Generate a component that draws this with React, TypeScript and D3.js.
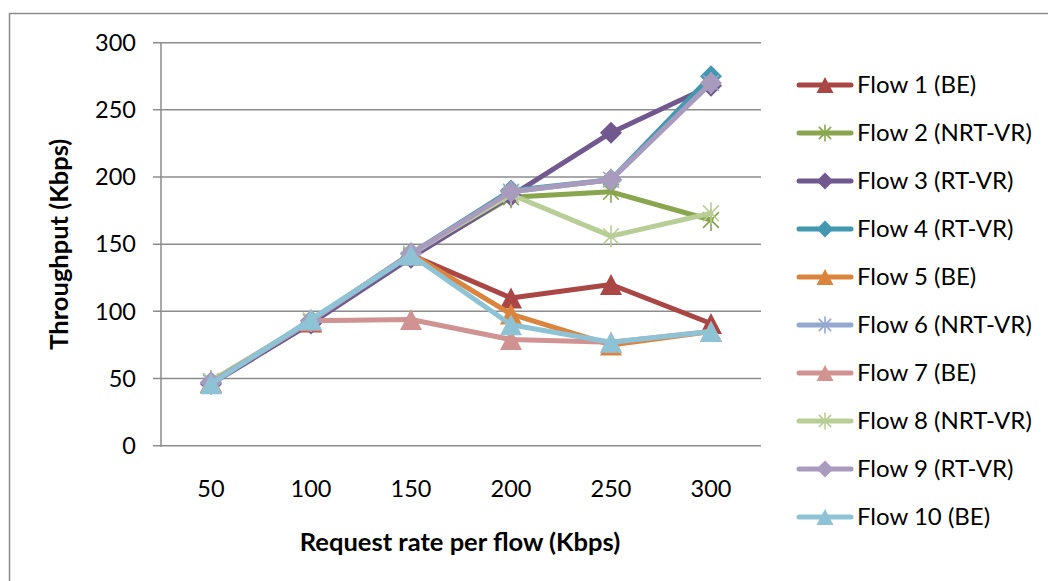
import React from "react";
import * as d3 from "d3";

const rates = ["50", "100", "150", "200", "250", "300"];
const yTicks = [0, 50, 100, 150, 200, 250, 300];

const flow1 = [47, 92, 142, 110, 120, 91];
const flow2 = [48, 92, 141, 185, 189, 168];
const flow3 = [46, 91, 140, 186, 233, 268];
const flow4 = [47, 93, 143, 190, 198, 275];
const flow5 = [47, 93, 143, 98, 75, 85];
const flow6 = [47, 93, 142, 189, 198, 270];
const flow7 = [47, 93, 94, 79, 77, 85];
const flow8 = [48, 93, 143, 187, 156, 173];
const flow9 = [47, 93, 143, 189, 198, 270];
const flow10 = [46, 94, 142, 90, 77, 85];

const names = [
  "Flow 1 (BE)",
  "Flow 2 (NRT-VR)",
  "Flow 3 (RT-VR)",
  "Flow 4 (RT-VR)",
  "Flow 5 (BE)",
  "Flow 6 (NRT-VR)",
  "Flow 7 (BE)",
  "Flow 8 (NRT-VR)",
  "Flow 9 (RT-VR)",
  "Flow 10 (BE)",
];
const colors = [
  "#AA4643",
  "#89A54E",
  "#71588F",
  "#4198AF",
  "#DB843D",
  "#93A9CF",
  "#D19392",
  "#B9CD96",
  "#A99BBD",
  "#8DC3D5",
];
const markers = ["tri", "star", "dia", "dia", "tri", "star", "tri", "star", "dia", "tri"];

const series = [flow1, flow2, flow3, flow4, flow5, flow6, flow7, flow8, flow9, flow10];

const FONT = "Lato, 'Open Sans', sans-serif";

// marker drawn around (0,0)
const Marker = ({ kind, color, s }: { kind: string; color: string; s: number }) => {
  if (kind === "tri") {
    const h = s * 0.95;
    return <path d={`M0,${-h / 2}L${s / 2},${h / 2}L${-s / 2},${h / 2}Z`} fill={color} />;
  }
  if (kind === "dia") {
    const r = s / 2;
    return <path d={`M0,${-r}L${r},0L0,${r}L${-r},0Z`} fill={color} />;
  }
  const r = s / 2;
  const d = r * 0.72;
  return (
    <path
      d={`M0,${-r}L0,${r}M${-d},${-d}L${d},${d}M${-d},${d}L${d},${-d}`}
      stroke={color}
      strokeWidth={1.6}
      fill="none"
    />
  );
};

const App = () => {
  const x = d3.scaleBand<string>().domain(rates).range([161, 761]);
  const cx = (c: string) => (x(c) as number) + x.bandwidth() / 2;
  const y = d3.scaleLinear().domain([0, 300]).range([445.7, 42.7]);

  const line = d3
    .line<number>()
    .x((_, i) => cx(rates[i]))
    .y((d) => y(d));

  const grid = "#8c8c8c";

  return (
    <svg
      width={1048}
      height={581}
      style={{ position: "absolute", left: 0, top: 0, background: "#fff" }}
      fontFamily={FONT}
    >
      <rect x={9.5} y={13.5} width={1100} height={600} fill="#fff" stroke={grid} strokeWidth={1.5} />

      {yTicks.map((t) => (
        <g key={t}>
          <line x1={153} x2={761} y1={y(t)} y2={y(t)} stroke={grid} strokeWidth={1.5} />
          <text x={136} y={y(t)} dy="0.35em" textAnchor="end" fontSize={23.5} fill="#000">
            {t}
          </text>
        </g>
      ))}
      <line x1={161} x2={161} y1={y(300)} y2={y(0) + 1} stroke={grid} strokeWidth={1.5} />

      {rates.map((c) => (
        <text key={c} x={cx(c)} y={497} textAnchor="middle" fontSize={23.5} fill="#000">
          {c}
        </text>
      ))}

      <text x={460} y={551} textAnchor="middle" fontSize={25.5} fontWeight="bold" fill="#000">
        Request rate per flow (Kbps)
      </text>
      <text
        transform={`translate(68,${(y(0) + y(300)) / 2}) rotate(-90)`}
        textAnchor="middle"
        fontSize={25.5}
        fontWeight="bold"
        fill="#000"
      >
        Throughput (Kbps)
      </text>

      {series.map((vals, si) => (
        <g key={si}>
          <path
            d={line(vals) as string}
            fill="none"
            stroke={colors[si]}
            strokeWidth={5}
            strokeLinejoin="round"
            strokeLinecap="round"
          />
          {vals.map((v, i) => (
            <g key={i} transform={`translate(${cx(rates[i])},${y(v)})`}>
              <Marker kind={markers[si]} color={colors[si]} s={22} />
            </g>
          ))}
        </g>
      ))}

      {names.map((n, i) => {
        const ly = 85 + i * 48;
        return (
          <g key={n}>
            <line x1={799} x2={851} y1={ly} y2={ly} stroke={colors[i]} strokeWidth={5} strokeLinecap="round" />
            <g transform={`translate(825,${ly})`}>
              <Marker kind={markers[i]} color={colors[i]} s={17} />
            </g>
            <text x={857} y={ly} dy="0.35em" fontSize={24} fill="#000">
              {n}
            </text>
          </g>
        );
      })}
    </svg>
  );
};

export default App;
